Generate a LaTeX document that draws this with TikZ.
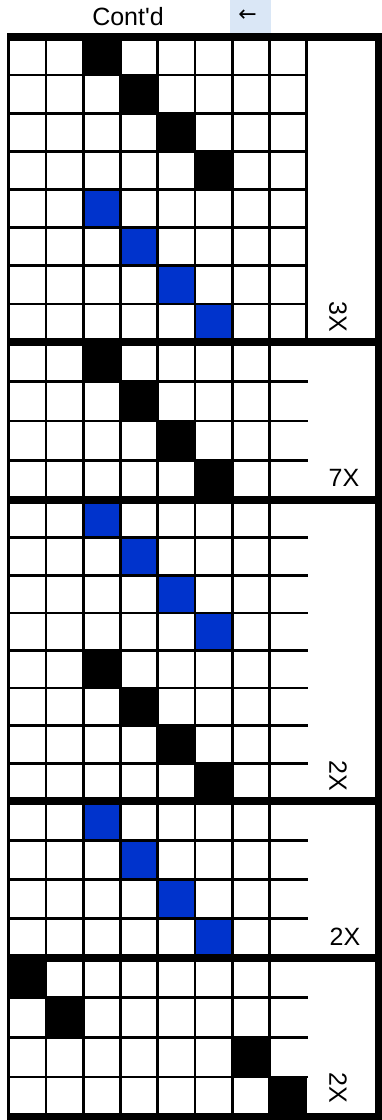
\documentclass[tikz,border=0pt]{standalone}
\usepackage{fontspec}
\newfontfamily\sheetfont{Liberation Sans}
\newfontfamily\arrowfont{DejaVu Sans}
\usetikzlibrary{positioning}
\definecolor{cellblue}{RGB}{0, 51, 204}
\definecolor{headblue}{RGB}{218, 231, 246}
\tikzset{
  thin rule/.style={
    line width=2.7pt,
    draw=black
  },
  thick rule/.style={
    line width=7.5pt,
    draw=black
  },
  repeat label/.style={
    inner sep=0pt,
    font=\sheetfont\fontsize{25}{30}\selectfont
  },
  turned label/.style={
    repeat label,
    rotate=-90
  }
}
\begin{document}
\begin{tikzpicture}[x=1pt, y=-1pt]
  \useasboundingbox (0,0) rectangle (382,1120);
  \fill[white] (0,0) rectangle (382,1120);

  \fill[headblue] (230,0) rectangle (271,33);
  \node[repeat label] (contd) at (128,17) {Cont'd};
  \node[inner sep=0pt, font=\arrowfont\fontsize{22}{24}\selectfont] (back) at (247.5,16) {←};

  \foreach \ya/\yb/\nr/\wall/\marks in {
      37/342/8/1/{1/3/black,2/4/black,3/5/black,4/6/black,5/3/cellblue,6/4/cellblue,7/5/cellblue,8/6/cellblue},
      342/500/4/0/{1/3/black,2/4/black,3/5/black,4/6/black},
      500/801/8/0/{1/3/cellblue,2/4/cellblue,3/5/cellblue,4/6/cellblue,5/3/black,6/4/black,7/5/black,8/6/black},
      801/958/4/0/{1/3/cellblue,2/4/cellblue,3/5/cellblue,4/6/cellblue},
      958/1116.5/4/0/{1/1/black,2/2/black,3/7/black,4/8/black}}
  {
    \pgfmathsetmacro\dy{(\yb-\ya)/\nr}
    \foreach \r/\c/\shade in \marks
      \fill[\shade] ({8.7+37.25*(\c-1)},{\ya+\dy*(\r-1)}) rectangle ++(37.25,\dy);
    \foreach \r in {1,...,\nr}
      \draw[thin rule] (8.7,{\ya+\dy*\r}) -- (308,{\ya+\dy*\r});
    \foreach \c in {0,...,7}
      \draw[thin rule] ({8.7+37.25*\c},\ya) -- ({8.7+37.25*\c},\yb);
    \ifnum\wall=1
      \draw[thin rule] (306.7,\ya) -- (306.7,\yb);
    \fi
  }

  \foreach \y in {37,342,500,801,958,1116.5}
    \draw[thick rule] (7.35,\y) -- (382,\y);
  \draw[thick rule] (378.5,33.25) -- (378.5,1120);

  \node[turned label] (rep1) at (338,317) {3X};
  \node[repeat label] (rep2) at (344,478) {7X};
  \node[turned label] (rep3) at (338,776) {2X};
  \node[repeat label] (rep4) at (345,937) {2X};
  \node[turned label] (rep5) at (338,1088) {2X};
\end{tikzpicture}
\end{document}
